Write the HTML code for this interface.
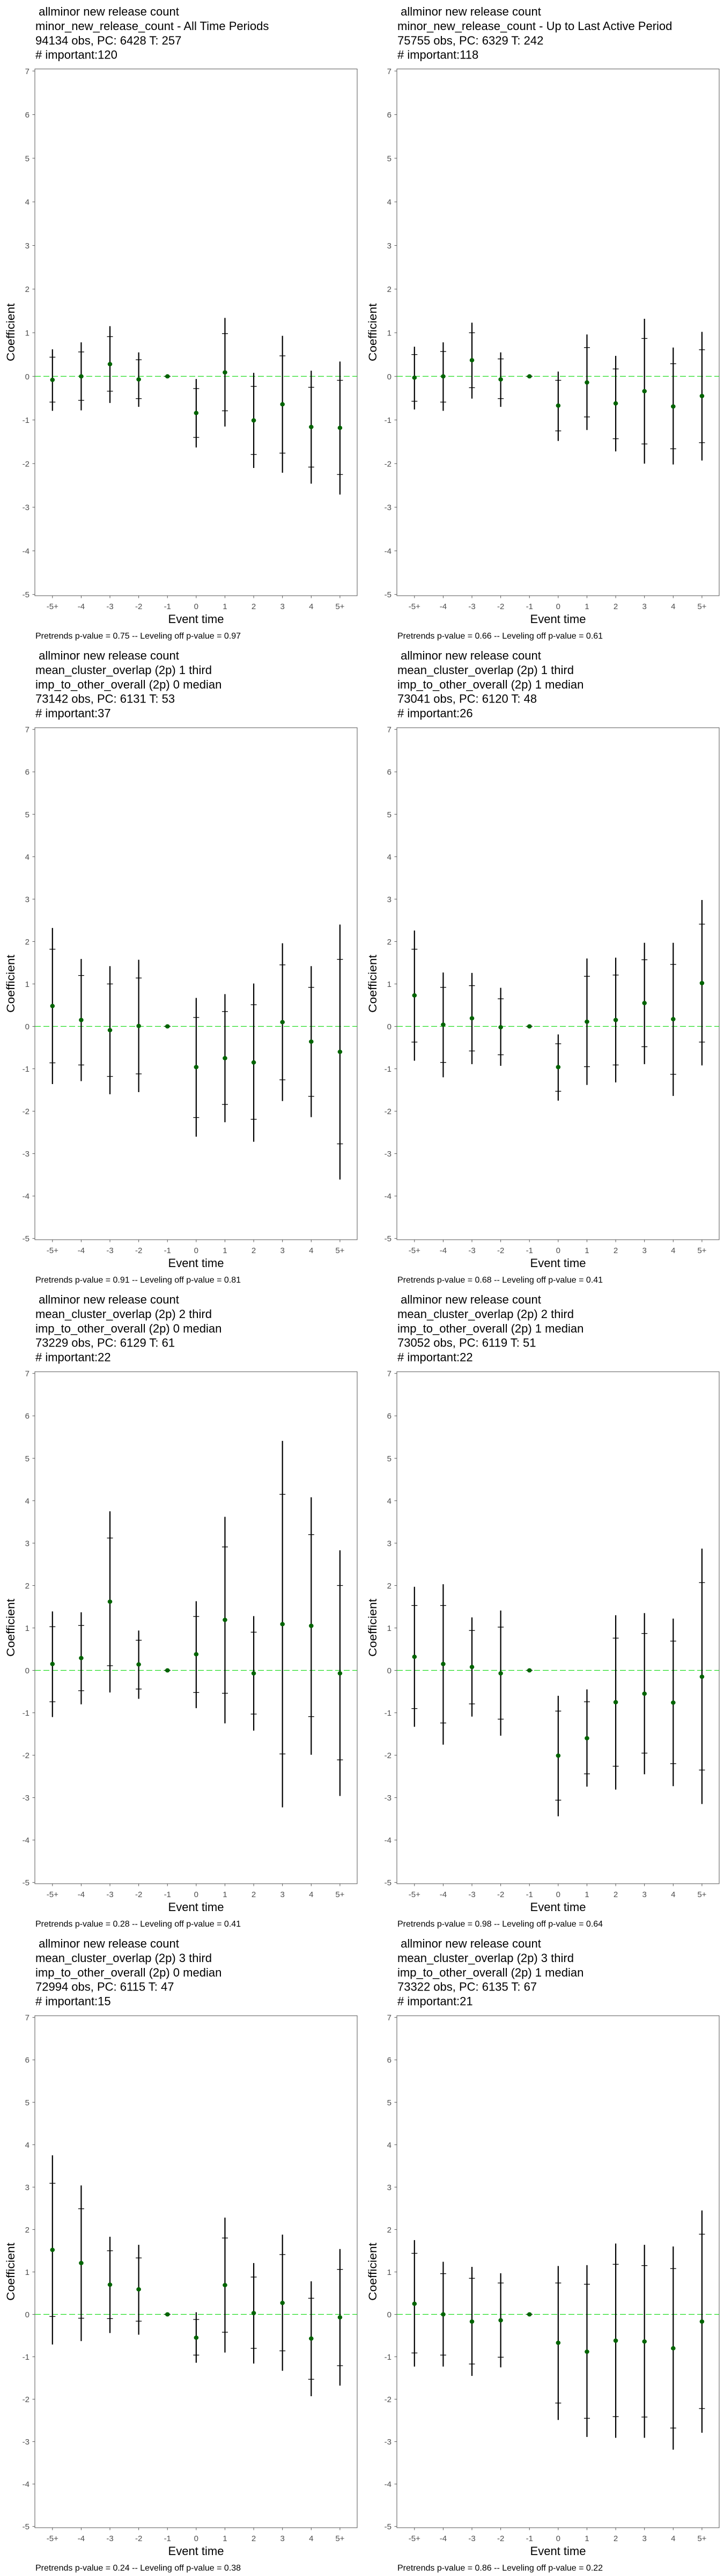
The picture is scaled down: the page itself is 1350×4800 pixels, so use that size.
<!DOCTYPE html>
<html><head><meta charset="utf-8">
<style>
html,body{margin:0;padding:0;background:#fff;}
svg{display:block;font-family:"Liberation Sans",sans-serif;}
</style></head>
<body>
<svg id="chart" width="1350" height="4800" viewBox="0 0 1350 4800" xmlns="http://www.w3.org/2000/svg"></svg>
<script>
const categories = ["-5+","-4","-3","-2","-1","0","1","2","3","4","5+"];
const yTicks = [7,6,5,4,3,2,1,0,-1,-2,-3,-4,-5];
const titles = [
 [" allminor new release count","minor_new_release_count - All Time Periods","94134 obs, PC: 6428 T: 257","# important:120"],
 [" allminor new release count","minor_new_release_count - Up to Last Active Period","75755 obs, PC: 6329 T: 242","# important:118"],
 [" allminor new release count","mean_cluster_overlap (2p) 1 third","imp_to_other_overall (2p) 0 median","73142 obs, PC: 6131 T: 53","# important:37"],
 [" allminor new release count","mean_cluster_overlap (2p) 1 third","imp_to_other_overall (2p) 1 median","73041 obs, PC: 6120 T: 48","# important:26"],
 [" allminor new release count","mean_cluster_overlap (2p) 2 third","imp_to_other_overall (2p) 0 median","73229 obs, PC: 6129 T: 61","# important:22"],
 [" allminor new release count","mean_cluster_overlap (2p) 2 third","imp_to_other_overall (2p) 1 median","73052 obs, PC: 6119 T: 51","# important:22"],
 [" allminor new release count","mean_cluster_overlap (2p) 3 third","imp_to_other_overall (2p) 0 median","72994 obs, PC: 6115 T: 47","# important:15"],
 [" allminor new release count","mean_cluster_overlap (2p) 3 third","imp_to_other_overall (2p) 1 median","73322 obs, PC: 6135 T: 67","# important:21"]
];
const footers = [
 "Pretrends p-value = 0.75 -- Leveling off p-value = 0.97",
 "Pretrends p-value = 0.66 -- Leveling off p-value = 0.61",
 "Pretrends p-value = 0.91 -- Leveling off p-value = 0.81",
 "Pretrends p-value = 0.68 -- Leveling off p-value = 0.41",
 "Pretrends p-value = 0.28 -- Leveling off p-value = 0.41",
 "Pretrends p-value = 0.98 -- Leveling off p-value = 0.64",
 "Pretrends p-value = 0.24 -- Leveling off p-value = 0.38",
 "Pretrends p-value = 0.86 -- Leveling off p-value = 0.22"
];
// coefficient estimates per panel
const coef = [
 [-0.08,0,0.28,-0.07,0,-0.84,0.09,-1.01,-0.64,-1.16,-1.18],
 [-0.03,0,0.37,-0.07,0,-0.67,-0.14,-0.62,-0.34,-0.69,-0.45],
 [0.48,0.15,-0.09,0.01,0,-0.96,-0.75,-0.85,0.10,-0.36,-0.60],
 [0.73,0.04,0.19,-0.02,0,-0.96,0.11,0.15,0.55,0.17,1.02],
 [0.15,0.29,1.62,0.14,0,0.38,1.19,-0.07,1.09,1.05,-0.07],
 [0.32,0.15,0.08,-0.07,0,-2.01,-1.60,-0.75,-0.55,-0.76,-0.15],
 [1.52,1.21,0.70,0.59,0,-0.55,0.69,0.03,0.27,-0.57,-0.07],
 [0.25,0,-0.17,-0.14,0,-0.67,-0.88,-0.62,-0.64,-0.80,-0.17]
];
// outer CI (95%)
const ciHi = [
 [0.62,0.78,1.15,0.55,0,-0.06,1.34,0.08,0.93,0.13,0.34],
 [0.68,0.78,1.23,0.55,0,0.11,0.96,0.47,1.32,0.66,1.02],
 [2.32,1.59,1.42,1.57,0,0.67,0.76,1.01,1.96,1.42,2.40],
 [2.26,1.27,1.26,0.91,0,-0.19,1.60,1.62,1.97,1.97,2.98],
 [1.39,1.37,3.75,0.94,0,1.63,3.62,1.28,5.41,4.08,2.83],
 [1.97,2.03,1.25,1.41,0,-0.60,-0.45,1.30,1.35,1.22,2.87],
 [3.75,3.04,1.83,1.64,0,0.05,2.28,1.21,1.88,0.78,1.54],
 [1.75,1.24,1.12,0.97,0,1.14,1.16,1.67,1.64,1.60,2.45]
];
const ciLo = [
 [-0.79,-0.78,-0.61,-0.70,0,-1.63,-1.15,-2.10,-2.21,-2.46,-2.71],
 [-0.76,-0.79,-0.51,-0.70,0,-1.48,-1.23,-1.72,-2.00,-2.02,-1.93],
 [-1.36,-1.29,-1.60,-1.55,0,-2.60,-2.26,-2.72,-1.76,-2.14,-3.61],
 [-0.81,-1.20,-0.89,-0.93,0,-1.75,-1.38,-1.32,-0.89,-1.64,-0.92],
 [-1.10,-0.80,-0.52,-0.67,0,-0.89,-1.25,-1.42,-3.23,-1.99,-2.96],
 [-1.33,-1.75,-1.09,-1.54,0,-3.44,-2.74,-2.81,-2.45,-2.73,-3.15],
 [-0.71,-0.63,-0.44,-0.48,0,-1.14,-0.90,-1.16,-1.33,-1.93,-1.68],
 [-1.23,-1.23,-1.45,-1.25,0,-2.49,-2.89,-2.91,-2.91,-3.19,-2.79]
];
// inner band (cross marks)
const innerHi = [
 [0.44,0.56,0.91,0.38,0,-0.28,0.98,-0.23,0.47,-0.25,-0.09],
 [0.50,0.57,1.00,0.40,0,-0.09,0.66,0.17,0.87,0.29,0.61],
 [1.82,1.20,1.00,1.14,0,0.21,0.35,0.51,1.45,0.92,1.58],
 [1.82,0.92,0.96,0.65,0,-0.41,1.18,1.21,1.57,1.46,2.41],
 [1.03,1.06,3.12,0.71,0,1.27,2.91,0.90,4.15,3.20,2.00],
 [1.53,1.53,0.94,1.02,0,-0.96,-0.74,0.76,0.87,0.69,2.07],
 [3.09,2.49,1.50,1.33,0,-0.12,1.80,0.88,1.41,0.38,1.06],
 [1.44,0.96,0.85,0.74,0,0.74,0.71,1.18,1.15,1.08,1.89]
];
const innerLo = [
 [-0.59,-0.55,-0.34,-0.51,0,-1.40,-0.79,-1.79,-1.76,-2.08,-2.25],
 [-0.57,-0.59,-0.26,-0.51,0,-1.25,-0.93,-1.43,-1.55,-1.66,-1.52],
 [-0.86,-0.91,-1.18,-1.12,0,-2.15,-1.84,-2.19,-1.26,-1.65,-2.77],
 [-0.37,-0.85,-0.58,-0.67,0,-1.53,-0.95,-0.91,-0.48,-1.13,-0.37],
 [-0.74,-0.48,0.11,-0.44,0,-0.52,-0.54,-1.03,-1.97,-1.09,-2.11],
 [-0.90,-1.24,-0.79,-1.15,0,-3.06,-2.44,-2.26,-1.95,-2.20,-2.35],
 [-0.05,-0.09,-0.10,-0.16,0,-0.96,-0.42,-0.80,-0.86,-1.53,-1.21],
 [-0.91,-0.96,-1.17,-1.01,0,-2.09,-2.45,-2.41,-2.42,-2.68,-2.22]
];

const NS = "http://www.w3.org/2000/svg";
const svg = document.getElementById("chart");
function mk(tag, attrs, parent){
  const e = document.createElementNS(NS, tag);
  for (const k in attrs) e.setAttribute(k, attrs[k]);
  (parent||svg).appendChild(e);
  return e;
}
const PW = 675, PH = 1200;
const plotL = 65, plotR = 666, plotB = 1110;
const xFirst = 97.8, xLast = 633.9;
function xScale(i){ return xFirst + i*(xLast - xFirst)/(categories.length-1); }

for (let p = 0; p < 8; p++) {
  const ox = (p % 2) * PW, oy = Math.floor(p/2) * PH;
  const g = mk("g", {transform: `translate(${ox},${oy})`});
  
  
  const nLines = titles[p].length;
  const plotT = nLines === 4 ? 128.5 : 156;
  const yTop = nLines === 4 ? 132.3 : 159.2, yBot = 1107.7;
  const yScale = v => yTop + (7 - v) * (yBot - yTop) / 12;

  // title
  const tt = mk("text", {x: 66, y: 29, "font-size": 22, fill: "#000"}, g);
  
  
  titles[p].forEach((line, i) => {
    const ts = mk("tspan", {x: 66, y: 29 + i*26.9}, tt);
    ts.setAttribute("xml:space", "preserve");
    ts.textContent = line;
  });
  tt.setAttribute("style", "white-space:pre");

  // plot border
  const fr = mk("rect", {x: plotL, y: plotT, width: plotR-plotL, height: plotB-plotT, fill: "none", stroke: "#555", "stroke-width": 1}, g);
  
  

  // y ticks
  yTicks.forEach(v => {
    const y = yScale(v);
    mk("line", {x1: 60.5, x2: plotL, y1: y, y2: y, stroke: "#555", "stroke-width": 1}, g);
    const t = mk("text", {x: 55, y: y + 5.5, "font-size": 15, fill: "#4d4d4d", "text-anchor": "end"}, g);
    
    
    t.textContent = v;
  });
  // x ticks
  categories.forEach((c, i) => {
    const x = xScale(i);
    mk("line", {x1: x, x2: x, y1: plotB, y2: plotB + 4.5, stroke: "#555", "stroke-width": 1}, g);
    const t = mk("text", {x: x, y: 1135, "font-size": 15, fill: "#4d4d4d", "text-anchor": "middle"}, g);
    
    
    t.textContent = c;
  });
  // axis titles
  const xt = mk("text", {x: (plotL+plotR)/2, y: 1161, "font-size": 22, fill: "#000", "text-anchor": "middle"}, g);
  
  
  xt.textContent = "Event time";
  const yc = (plotT + plotB) / 2;
  const yt = mk("text", {x: 0, y: 0, "font-size": 21, fill: "#000", "text-anchor": "middle", transform: `translate(27,${yc}) rotate(-90)`, textLength: 108, lengthAdjust: "spacingAndGlyphs"}, g);
  
  
  yt.textContent = "Coefficient";

  // zero line
  const zl = mk("line", {x1: plotL, x2: plotR, y1: yScale(0), y2: yScale(0), stroke: "#22dd22", "stroke-width": 1.3, "stroke-dasharray": "11,5"}, g);
  
  

  // series
  categories.forEach((c, i) => {
    const x = xScale(i);
    const eb = mk("line", {x1: x, x2: x, y1: yScale(ciHi[p][i]), y2: yScale(ciLo[p][i]), stroke: "#000", "stroke-width": 2.2}, g);
    
    
    [innerHi[p][i], innerLo[p][i]].forEach(v => {
      const cb = mk("line", {x1: x-5.5, x2: x+5.5, y1: yScale(v), y2: yScale(v), stroke: "#000", "stroke-width": 1.3}, g);
      
      
    });
    const pt = mk("ellipse", {cx: x, cy: yScale(coef[p][i]), rx: 4.3, ry: 4, fill: "#006400"}, g);
    
    
  });

  // footer
  const ft = mk("text", {x: 66, y: 1190, "font-size": 16, fill: "#000"}, g);
  
  
  ft.textContent = footers[p];
}
</script>
</body></html>
